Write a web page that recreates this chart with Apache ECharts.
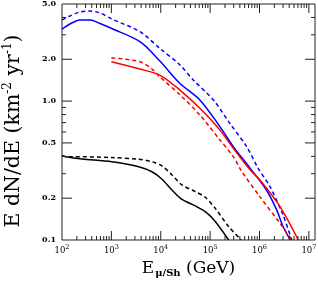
<!DOCTYPE html>
<html><head><meta charset="utf-8">
<script src="https://cdn.jsdelivr.net/npm/echarts@6/dist/echarts.min.js"></script>
<style>html,body{margin:0;padding:0;background:#fff}#c{width:318px;height:281px}</style>
</head><body><div id="c"></div>
<script>
// ---- data ----
const blueSolidE = [100, 145, 230, 370, 590, 1020, 3800, 9500, 24500, 62000, 158000, 295000, 650000, 1380000, 2240000, 3000000, 4200000];
const blueSolidV = [3.30, 3.59, 3.84, 3.84, 3.62, 3.33, 2.68, 1.95, 1.34, 1.02, 0.655, 0.470, 0.328, 0.229, 0.164, 0.125, 0.100];
const blueDashE = [100, 145, 230, 370, 590, 1020, 3800, 9500, 24500, 45500, 116000, 250000, 550000, 940000, 1630000, 3000000, 4500000];
const blueDashV = [3.84, 4.10, 4.38, 4.45, 4.31, 3.90, 3.16, 2.40, 1.82, 1.42, 1.02, 0.692, 0.470, 0.328, 0.242, 0.151, 0.100];
const redSolidE = [1000, 3800, 9500, 24500, 62000, 158000, 295000, 650000, 1020000, 2600000, 6100000];
const redSolidV = [1.92, 1.70, 1.54, 1.20, 0.887, 0.619, 0.457, 0.319, 0.270, 0.174, 0.100];
const redDashE = [1000, 3800, 6950, 9500, 24500, 62000, 158000, 295000, 430000, 1020000, 2600000, 4500000];
const redDashV = [2.05, 1.92, 1.68, 1.50, 1.11, 0.794, 0.525, 0.398, 0.314, 0.205, 0.132, 0.100];
const blackSolidE = [100, 120, 254, 1020, 3570, 6640, 10600, 16900, 26900, 49900, 79600, 127000, 237000];
const blackSolidV = [0.405, 0.397, 0.383, 0.366, 0.337, 0.310, 0.274, 0.229, 0.196, 0.176, 0.160, 0.136, 0.100];
const blackDashE = [100, 120, 160, 1020, 3570, 6640, 10600, 16900, 26900, 49900, 79600, 127000, 237000, 427000];
const blackDashV = [0.405, 0.398, 0.398, 0.392, 0.381, 0.366, 0.341, 0.294, 0.249, 0.223, 0.203, 0.169, 0.125, 0.100];

// ---- ticks / labels ----
const xLabelTicks = [1e2, 1e3, 1e4, 1e5, 1e6, 1e7];
const xMajorTicks = [1e3, 1e4, 1e5, 1e6, 1e7];
const xMinorTicks = [];
for (let n = 2; n <= 6; n++) for (let k = 2; k <= 9; k++) xMinorTicks.push(k * Math.pow(10, n));
const yLabelTicks = [0.1, 0.2, 0.5, 1.0, 2.0, 5.0];
const yMajorTicks = [0.2, 0.5, 1.0, 2.0];
const yMinorTicks = [0.3, 0.4, 0.6, 0.7, 0.8, 0.9, 3, 4];

const X_MIN = 100, X_MAX = 1.33e7, Y_MIN = 0.1, Y_MAX = 5.0;

// layout
const W = 318, H = 281, G_LEFT = 62, G_TOP = 4, G_RIGHT = 3, G_BOTTOM = 41;
const PX_PER_DEC_X = (W - G_LEFT - G_RIGHT) / Math.log10(X_MAX / X_MIN);
const PX_PER_DEC_Y = (H - G_TOP - G_BOTTOM) / Math.log10(Y_MAX / Y_MIN);

function zip(a, b) { return a.map(function (v, i) { return [v, b[i]]; }); }

const FONT = 'DejaVu Serif';
const LINE_COL = '#222';

// tick segments (in data space) on all four sides, separated by gaps
function xTickData(vals, len) {
  const f = Math.pow(10, len / PX_PER_DEC_Y);
  const d = [];
  vals.forEach(function (v) {
    d.push([v, Y_MIN], [v, Y_MIN * f], [v, null], [v, Y_MAX], [v, Y_MAX / f], [v, null]);
  });
  return d;
}
function yTickData(vals, len) {
  const f = Math.pow(10, len / PX_PER_DEC_X);
  const d = [];
  vals.forEach(function (v) {
    d.push([X_MIN, v], [X_MIN * f, v], [null, v], [X_MAX, v], [X_MAX / f, v], [null, v]);
  });
  return d;
}
function tickSeries(data) {
  return {
    type: 'line', data: data, showSymbol: false, symbol: 'none', smooth: false,
    connectNulls: false, clip: false, silent: true, z: 3,
    emphasis: { disabled: true },
    lineStyle: { color: LINE_COL, width: 1 }
  };
}

function ser(E, V, color, dashed) {
  return {
    type: 'line', data: zip(E, V),
    showSymbol: false, symbol: 'none', smooth: 0.3, silent: true, z: 2,
    emphasis: { disabled: true },
    lineStyle: { color: color, width: 1.5, type: dashed ? [4, 3] : 'solid' }
  };
}

const chart = echarts.init(document.getElementById('c'));
chart.setOption({
  animation: false,
  grid: { left: G_LEFT, top: G_TOP, right: G_RIGHT, bottom: G_BOTTOM, outerBoundsMode: 'none',
          show: true, borderColor: LINE_COL, borderWidth: 1 },
  xAxis: {
    type: 'log', min: X_MIN, max: X_MAX,
    axisLine: { show: false }, axisTick: { show: false },
    splitLine: { show: false }, minorTick: { show: false }, minorSplitLine: { show: false },
    axisLabel: {
      show: true, customValues: xLabelTicks, margin: 4,
      fontFamily: FONT, fontSize: 8.5, color: '#000',
      formatter: function (v) { return '10{sup|' + Math.round(Math.log10(v)) + '}'; },
      rich: { sup: { fontSize: 6.5, fontFamily: FONT, color: '#000', padding: [0, 0, 6, 0] } }
    },
    name: 'E{sub|μ/Sh} (GeV)', nameLocation: 'middle', nameGap: 17,
    nameTextStyle: { fontFamily: FONT, fontSize: 17, color: '#000',
      rich: { sub: { fontFamily: FONT, fontSize: 10, fontWeight: 'bold', color: '#000', padding: [10, 0, 0, 1] } } }
  },
  yAxis: {
    type: 'log', min: Y_MIN, max: Y_MAX,
    axisLine: { show: false }, axisTick: { show: false },
    splitLine: { show: false }, minorTick: { show: false }, minorSplitLine: { show: false },
    axisLabel: {
      show: true, customValues: yLabelTicks, margin: 6,
      fontFamily: FONT, fontSize: 8, fontWeight: 'bold', color: '#000',
      formatter: function (v) { return Number(v).toFixed(1); }
    },
    name: 'E dN/dE (km{sup|-2} yr{sup|-1})', nameLocation: 'middle', nameGap: 37, nameRotate: 90,
    nameTextStyle: { fontFamily: FONT, fontSize: 20.5, color: '#000', padding: [0, 18, 0, 0],
      rich: { sup: { fontFamily: FONT, fontSize: 12, color: '#000', padding: [0, 0, 11, 0] } } }
  },
  series: [
    tickSeries(xTickData(xMajorTicks, 9)),
    tickSeries(xTickData(xMinorTicks, 4)),
    tickSeries(yTickData(yMajorTicks, 10)),
    tickSeries(yTickData(yMinorTicks, 4)),
    ser(blueDashE, blueDashV, '#0000ff', true),
    ser(blueSolidE, blueSolidV, '#0000ff', false),
    ser(redDashE, redDashV, '#ff0000', true),
    ser(redSolidE, redSolidV, '#ff0000', false),
    ser(blackDashE, blackDashV, '#000000', true),
    ser(blackSolidE, blackSolidV, '#000000', false)
  ]
});
</script></body></html>
